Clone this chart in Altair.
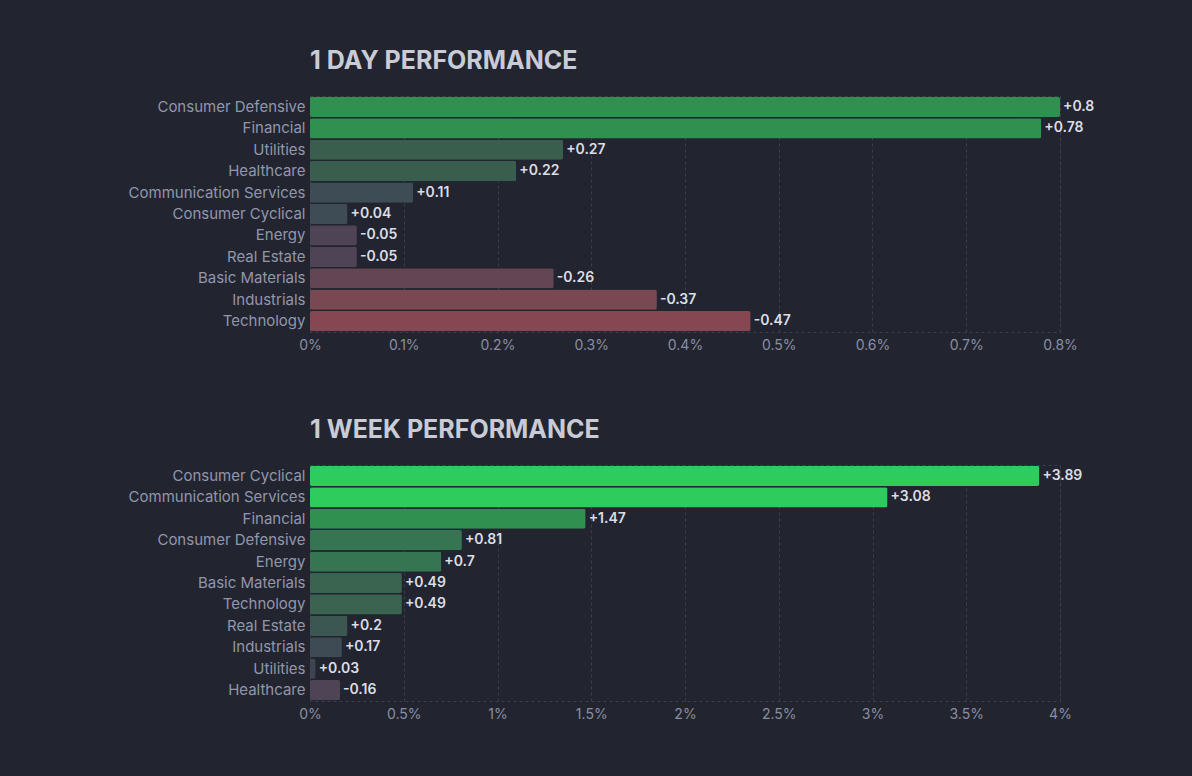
import altair as alt
import pandas as pd
import jinja2

day_sectors = ["Consumer Defensive", "Financial", "Utilities", "Healthcare",
               "Communication Services", "Consumer Cyclical", "Energy",
               "Real Estate", "Basic Materials", "Industrials", "Technology"]
day_values = [0.8, 0.78, 0.27, 0.22, 0.11, 0.04, -0.05, -0.05, -0.26, -0.37, -0.47]

week_sectors = ["Consumer Cyclical", "Communication Services", "Financial",
                "Consumer Defensive", "Energy", "Basic Materials", "Technology",
                "Real Estate", "Industrials", "Utilities", "Healthcare"]
week_values = [3.89, 3.08, 1.47, 0.81, 0.7, 0.49, 0.49, 0.2, 0.17, 0.03, -0.16]

day_ticks = [0, 0.1, 0.2, 0.3, 0.4, 0.5, 0.6, 0.7, 0.8]
week_ticks = [0, 0.5, 1, 1.5, 2, 2.5, 3, 3.5, 4]

day_thresholds = [-0.4, -0.3, -0.1, 0, 0.2, 0.5]
day_colors = ["#864652", "#7a4852", "#634554", "#4e4455", "#3e4c55", "#3a5e4e", "#30904f"]
week_thresholds = [0, 0.1, 0.18, 0.3, 0.6, 1, 2]
week_colors = ["#4e4455", "#404450", "#3e4b55", "#3c5652", "#3a6450", "#367552", "#30904f", "#2ecc5d"]

BG = "#22252f"
FONT = "Inter"


def make_panel(title, sectors, values, ticks, thresholds, colors):
    df = pd.DataFrame({
        "sector": sectors,
        "value": values,
        "size": [abs(v) for v in values],
        "label": [f"{v:+g}" for v in values],
    })
    y = alt.Y("sector:N", sort=None, title=None,
              scale=alt.Scale(paddingInner=0.06, paddingOuter=0.04),
              axis=alt.Axis(labelColor="#9396ab", labelFontSize=15, labelFont=FONT,
                            ticks=False, domain=False, grid=False, labelPadding=5))
    x = alt.X("size:Q", title=None,
              scale=alt.Scale(domain=[ticks[0], ticks[-1]], nice=False),
              axis=alt.Axis(values=ticks, labelExpr="format(datum.value, '~g') + '%'",
                            labelColor="#8a8ea3", labelFontSize=14, labelFont=FONT,
                            ticks=False, domain=False, labelPadding=6,
                            grid=True, gridColor="#3a3e4b", gridDash=[3, 3],
                            labelFlush=False))
    bars = alt.Chart(df).mark_bar(cornerRadius=2).encode(
        y=y, x=x,
        color=alt.Color("value:Q", legend=None,
                        scale=alt.Scale(type="threshold", domain=thresholds, range=colors)),
    )
    text = alt.Chart(df).mark_text(align="left", baseline="middle", dx=3,
                                   fontSize=14, fontWeight=600, font=FONT,
                                   color="#dcdde4").encode(
        y=alt.Y("sector:N", sort=None), x=alt.X("size:Q"), text="label:N")
    return alt.layer(bars, text).properties(
        width=750, height=236,
        title=alt.TitleParams(title, anchor="start", frame="group", fontSize=25,
                              font=FONT, fontWeight=700, color="#c9cbd6",
                              baseline="alphabetic", offset=2),
    )


day = make_panel("1 DAY PERFORMANCE", day_sectors, day_values, day_ticks,
                 day_thresholds, day_colors)
week = make_panel("1 WEEK PERFORMANCE", week_sectors, week_values, week_ticks,
                  week_thresholds, week_colors)

chart = alt.vconcat(day, week, spacing=64).resolve_scale(
    color="independent", x="independent", y="independent"
).configure(background=BG, padding={"left": 119, "top": 40, "right": 10, "bottom": 10}
).configure_view(stroke="#3a3e4b", strokeDash=[3, 3])

PAGE_TEMPLATE = jinja2.Template("""<!DOCTYPE html>
<html>
<head>
<style>
html, body { background: #22252f; }
</style>
<script type="text/javascript" src="{{ base_url }}/vega@{{ vega_version }}"></script>
<script type="text/javascript" src="{{ base_url }}/vega-lite@{{ vegalite_version }}"></script>
<script type="text/javascript" src="{{ base_url }}/vega-embed@{{ vegaembed_version }}"></script>
</head>
<body>
<div id="{{ output_div }}"></div>
<script>
  vegaEmbed("#{{ output_div }}", {{ spec }}, {{ embed_options }}).catch(console.error);
</script>
</body>
</html>
""")

chart.save("out.html", embed_options={"renderer": "svg", "actions": False},
           template=PAGE_TEMPLATE)
